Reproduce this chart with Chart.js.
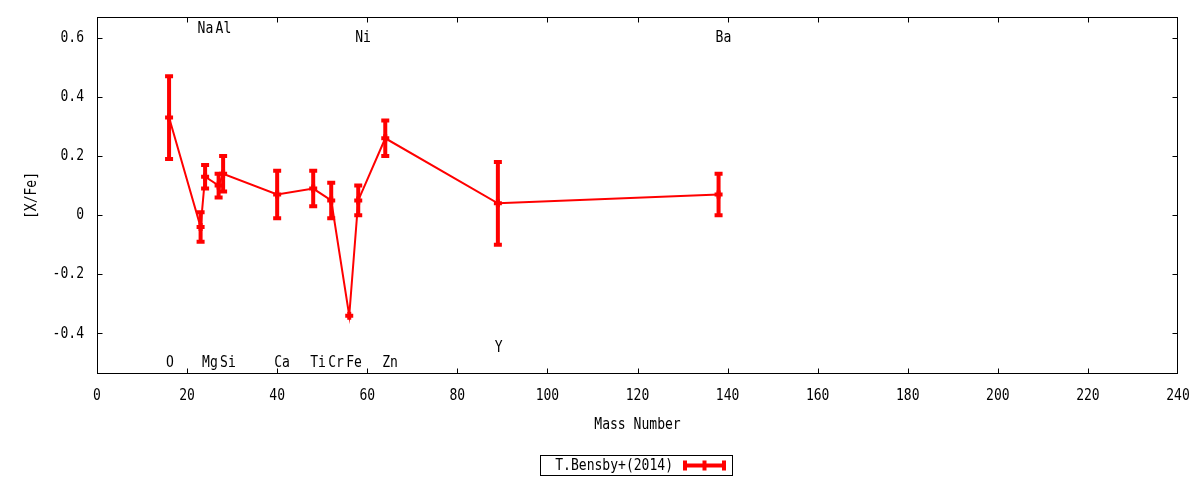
<!DOCTYPE html>
<html lang="en">
<head>
<meta charset="utf-8">
<title>[X/Fe] vs Mass Number</title>
<script src="https://cdn.jsdelivr.net/npm/chart.js@4.4.1/dist/chart.umd.min.js"></script>
<style>
  * { margin: 0; padding: 0; }
  body { background: #fff; }
  #wrap { width: 1200px; height: 480px; }
</style>
</head>
<body>
<div id="wrap"><canvas id="chart"></canvas></div>
<script>
// data
const elements    = ["O", "Na", "Mg", "Al", "Si", "Ca", "Ti", "Cr", "Fe", "Ni", "Zn", "Y", "Ba"];
const massNumbers = [16, 23, 24, 27, 28, 40, 48, 52, 56, 58, 64, 89, 138];
const xfe         = [0.33, -0.04, 0.13, 0.10, 0.14, 0.07, 0.09, 0.05, -0.34, 0.05, 0.26, 0.04, 0.07];
const xfeErr      = [0.14, 0.05, 0.04, 0.04, 0.06, 0.08, 0.06, 0.06, 0.00, 0.05, 0.06, 0.14, 0.07];
// where each element name sits (in [X/Fe] units)
const labelY      = [-0.5, 0.63, -0.5, 0.63, -0.5, -0.5, -0.5, -0.5, -0.5, 0.6, -0.5, -0.45, 0.6];

const xTicks = [0, 20, 40, 60, 80, 100, 120, 140, 160, 180, 200, 220, 240];
const yTicks = [-0.4, -0.2, 0, 0.2, 0.4, 0.6];

const RED = "#ff0000";
const FONT = "DejaVu Sans Mono";
const TEXT_SQUEEZE = 0.815; // the gnuplot font is a narrow mono, squeeze DejaVu to match

// squeeze all text horizontally around its anchor point
const rawFillText = CanvasRenderingContext2D.prototype.fillText;
CanvasRenderingContext2D.prototype.fillText = function (text, x, y, maxWidth) {
  this.save();
  this.translate(x, y);
  this.scale(TEXT_SQUEEZE, 1);
  if (maxWidth === undefined) rawFillText.call(this, text, 0, 0);
  else rawFillText.call(this, text, 0, 0, maxWidth / TEXT_SQUEEZE);
  this.restore();
};

Chart.defaults.font.family = FONT;
Chart.defaults.font.size = 16;
Chart.defaults.color = "#000";

// gnuplot style frame: full border plus inward ticks on all four sides
const frame = {
  id: "frame",
  afterDraw(chart) {
    const { ctx, chartArea: a, scales: { x, y } } = chart;
    const L = a.left + 0.5, R = a.right - 0.5, T = a.top + 0.5, B = a.bottom - 0.5;
    ctx.save();
    ctx.strokeStyle = "#000";
    ctx.lineWidth = 1;
    ctx.strokeRect(L, T, R - L, B - T);
    ctx.beginPath();
    const len = 5;
    xTicks.forEach(v => {
      const px = Math.min(Math.max(Math.round(x.getPixelForValue(v)) + 0.5, L), R);
      ctx.moveTo(px, B); ctx.lineTo(px, B - len);
      ctx.moveTo(px, T); ctx.lineTo(px, T + len);
    });
    yTicks.forEach(v => {
      const py = Math.round(y.getPixelForValue(v)) + 0.5;
      ctx.moveTo(L, py); ctx.lineTo(L + len, py);
      ctx.moveTo(R, py); ctx.lineTo(R - len, py);
    });
    ctx.stroke();
    ctx.restore();
  }
};

const errorBars = {
  id: "errorBars",
  afterDatasetsDraw(chart) {
    const { ctx, scales: { x, y } } = chart;
    ctx.save();
    ctx.strokeStyle = RED;
    ctx.lineWidth = 4;
    ctx.beginPath();
    massNumbers.forEach((m, i) => {
      if (!xfeErr[i]) return;
      const px = x.getPixelForValue(m);
      const yHi = y.getPixelForValue(xfe[i] + xfeErr[i]);
      const yLo = y.getPixelForValue(xfe[i] - xfeErr[i]);
      ctx.moveTo(px, yHi); ctx.lineTo(px, yLo);
      ctx.moveTo(px - 4, yHi); ctx.lineTo(px + 4, yHi);
      ctx.moveTo(px - 4, yLo); ctx.lineTo(px + 4, yLo);
    });
    ctx.stroke();
    ctx.restore();
  }
};

// element names and the boxed legend
const annotations = {
  id: "annotations",
  afterDraw(chart) {
    const { ctx, scales: { x, y } } = chart;
    ctx.save();
    ctx.fillStyle = "#000";
    ctx.font = "16px " + FONT;
    ctx.textAlign = "left";
    ctx.textBaseline = "middle";
    elements.forEach((el, i) => {
      ctx.fillText(el, x.getPixelForValue(massNumbers[i]) - 3, y.getPixelForValue(labelY[i]));
    });

    // legend
    ctx.strokeStyle = "#000";
    ctx.lineWidth = 1;
    ctx.strokeRect(540.5, 455.5, 192, 20);
    ctx.textAlign = "right";
    ctx.fillText(chart.data.datasets[0].label, 673, 466);
    ctx.strokeStyle = RED;
    ctx.lineWidth = 4;
    ctx.beginPath();
    ctx.moveTo(683, 465.5); ctx.lineTo(726, 465.5);
    ctx.moveTo(685, 460.5); ctx.lineTo(685, 470.5);
    ctx.moveTo(724, 460.5); ctx.lineTo(724, 470.5);
    ctx.moveTo(704.5, 460.5); ctx.lineTo(704.5, 470.5);
    ctx.stroke();
    ctx.restore();
  }
};

new Chart(document.getElementById("chart"), {
  type: "line",
  data: {
    datasets: [{
      label: "T.Bensby+(2014)",
      data: massNumbers.map((m, i) => ({ x: m, y: xfe[i] })),
      borderColor: RED,
      backgroundColor: RED,
      borderWidth: 2,
      tension: 0,
      pointStyle: "cross",
      pointRadius: 4,
      pointBorderWidth: 4,
      pointBorderColor: RED,
      pointHoverRadius: 4
    }]
  },
  plugins: [frame, errorBars, annotations],
  options: {
    responsive: true,
    maintainAspectRatio: false,
    animation: false,
    layout: { autoPadding: false, padding: { top: 17, right: 22, left: 0, bottom: 0 } },
    plugins: {
      legend: { display: false },
      tooltip: { enabled: false }
    },
    scales: {
      x: {
        type: "linear",
        min: 0,
        max: 240,
        grid: { display: false, drawTicks: false },
        border: { display: false },
        afterBuildTicks: s => { s.ticks = xTicks.map(v => ({ value: v })); },
        afterFit: s => { s.height = 106; s.paddingLeft = 0; s.paddingRight = 0; },
        ticks: { padding: 12, maxRotation: 0, autoSkip: false },
        title: { display: true, text: "Mass Number", padding: { top: 0, bottom: 46 } }
      },
      y: {
        type: "linear",
        min: -0.537,
        max: 0.670,
        grid: { display: false, drawTicks: false },
        border: { display: false },
        afterBuildTicks: s => { s.ticks = yTicks.map(v => ({ value: v })); },
        afterFit: s => { s.width = 97; s.paddingTop = 0; s.paddingBottom = 0; },
        ticks: { padding: 13 },
        title: { display: true, text: "[X/Fe]", padding: { top: 22, bottom: 0 } }
      }
    }
  }
});
</script>
</body>
</html>
